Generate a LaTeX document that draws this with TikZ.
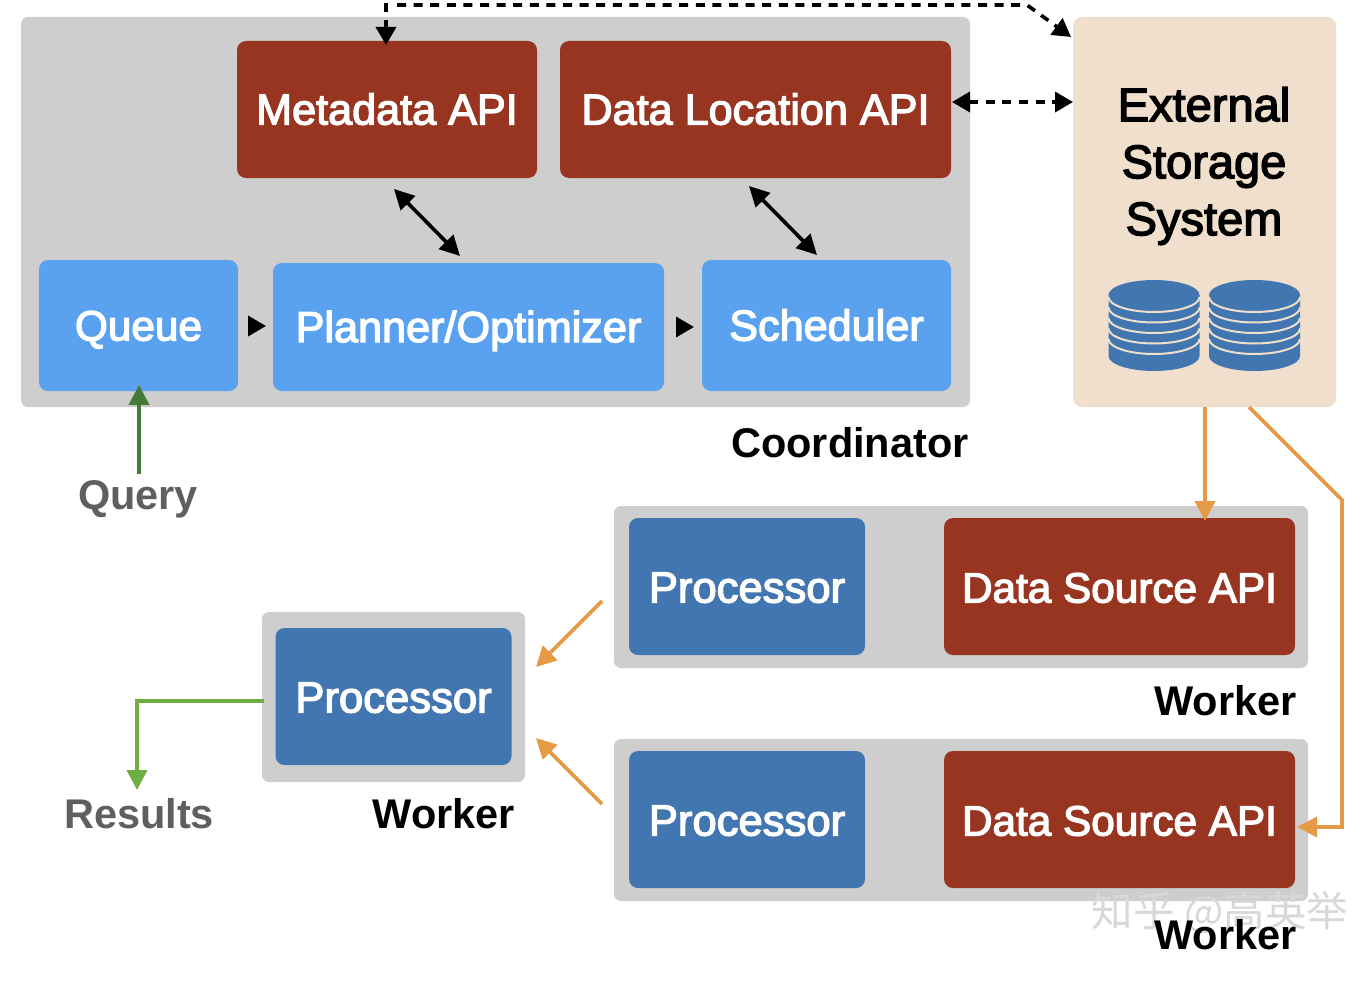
\documentclass[tikz,border=0pt]{standalone}
\usepackage{fontspec}
\setmainfont{Liberation Sans}
\newfontfamily\medfont[BoldFont={Liberation Sans},BoldFeatures={FakeBold=3}]{Liberation Sans}
\newfontfamily\cjkfont{Noto Sans CJK SC}
\usetikzlibrary{arrows.meta}
\definecolor{panelgray}{HTML}{CECECE}
\definecolor{apired}{HTML}{983521}
\definecolor{lightblue}{HTML}{5AA2F0}
\definecolor{darkblue}{HTML}{4276B0}
\definecolor{beige}{HTML}{EFDFCC}
\definecolor{labelgray}{HTML}{5F5F5F}
\definecolor{flow}{HTML}{E59B45}
\definecolor{querygreen}{HTML}{47793A}
\definecolor{resultgreen}{HTML}{6FAD45}
\definecolor{wmark}{HTML}{D8D8D8}
\tikzset{
  panel/.style={fill=panelgray,rounded corners=7pt,inner sep=0pt},
  card/.style={rounded corners=9pt,inner sep=0pt,text=white,text height=30pt,text depth=0pt,font=\medfont\bfseries\fontsize{42.3}{50}\selectfont},
  apicard/.style={card,fill=apired},
  lightcard/.style={card,fill=lightblue},
  darkcard/.style={card,fill=darkblue,text height=32pt,font=\medfont\bfseries\fontsize{43.6}{50}\selectfont},
  widecard/.style={font=\medfont\bfseries\fontsize{43.2}{50}\selectfont},
  caption/.style={inner sep=0pt,text height=28pt,text depth=0pt,font=\bfseries\fontsize{41.5}{50}\selectfont},
  graycaption/.style={caption,text=labelgray},
  blackhead/.style={-{Triangle[length=18pt,width=20pt]}},
  dashline/.style={line width=3.6pt,dash pattern=on 9pt off 7.6pt,black},
  solidline/.style={line width=3.6pt,black},
  flowline/.style={line width=3.8pt,flow,line join=miter},
  flowhead/.style={-{Triangle[length=20pt,width=20pt]}},
  disk/.style={fill=darkblue},
  diskline/.style={draw=beige,line width=2pt}
}
\begin{document}
\begin{tikzpicture}[x=1pt,y=-1pt]
\useasboundingbox (0,0) rectangle (1370,982);
\fill[white] (0,0) rectangle (1370,982);

% panels
\node[panel,minimum width=949pt,minimum height=390pt] (coord) at (495.5,212) {};
\node[fill=beige,rounded corners=9pt,inner sep=0pt,minimum width=263pt,minimum height=390pt] (ext) at (1204.5,212) {};
\node[panel,minimum width=694pt,minimum height=162pt] (w1) at (961,587) {};
\node[panel,minimum width=694pt,minimum height=162pt] (w2) at (961,820) {};
\node[panel,minimum width=263pt,minimum height=170pt] (w3) at (393.5,697) {};

% cards
\node[apicard,widecard,minimum width=300pt,minimum height=137pt] (meta) at (387,109.5) {Metadata API};
\node[apicard,widecard,minimum width=391pt,minimum height=137pt] (loc) at (755.5,109.5) {Data Location API};
\node[lightcard,minimum width=199pt,minimum height=131pt] (queue) at (138.5,325.5) {Queue};
\node[lightcard,widecard,minimum width=391pt,minimum height=128pt] (plan) at (468.5,327) {Planner/Optimizer};
\node[lightcard,widecard,minimum width=249pt,minimum height=131pt] (sched) at (826.5,325.5) {Scheduler};
\node[darkcard,minimum width=236pt,minimum height=137pt] (p1) at (747,586.5) {Processor};
\node[apicard,text height=32pt,minimum width=351pt,minimum height=137pt] (d1) at (1119.5,586.5) {Data Source API};
\node[darkcard,minimum width=236pt,minimum height=137pt] (p2) at (747,819.5) {Processor};
\node[apicard,text height=32pt,minimum width=351pt,minimum height=137pt] (d2) at (1119.5,819.5) {Data Source API};
\node[darkcard,minimum width=236pt,minimum height=137pt] (p3) at (393.5,696.5) {Processor};

% external storage text
\node[inner sep=0pt,align=center,font=\medfont\bfseries\fontsize{47}{57}\selectfont] (extlabel) at (1204,166) {External\\Storage\\System};

% disks
\foreach \cx in {1154,1254.5}{
  \fill[disk] (\cx-45.5,295) -- (\cx-45.5,356) arc[start angle=180,end angle=0,x radius=45.5,y radius=15] -- (\cx+45.5,295) -- cycle;
  \fill[disk] (\cx,295) ellipse[x radius=45.5,y radius=15];
  \foreach \dy in {297,307.5,318,328.5,339}{
    \draw[diskline] (\cx-45.5,\dy) arc[start angle=180,end angle=0,x radius=45.5,y radius=15];
  }
}

% captions
\node[graycaption] (query) at (138,495) {Query};
\node[graycaption] (results) at (139,814) {Results};
\node[caption] (coordlabel) at (850,443) {Coordinator};
\node[caption] (wl1) at (1225.5,701) {Worker};
\node[caption] (wl3) at (444,814) {Worker};
\node[inner sep=0pt,text=wmark,font=\cjkfont\fontsize{41.5}{50}\selectfont] (mark) at (1220,913) {知乎 @高英举};
\node[caption] (wl2) at (1225.5,935) {Worker};

% free ends of connectors
\coordinate (topa) at (386,3);
\coordinate (topb) at (386,45);
\coordinate (topc) at (397,5);
\coordinate (topd) at (1027,5);
\coordinate (tope) at (1071,37);
\coordinate (lx1) at (952,102);
\coordinate (lx2) at (1073,102);
\coordinate (mp1) at (394,189);
\coordinate (mp2) at (460,256);
\coordinate (ls1) at (749,186);
\coordinate (ls2) at (817,255);
\coordinate (qp1) at (247.5,326);
\coordinate (qp2) at (266,326);
\coordinate (ps1) at (675.5,327);
\coordinate (ps2) at (694,327);
\coordinate (qs) at (139,474);
\coordinate (qe) at (139,385);
\coordinate (rs) at (264,701);
\coordinate (rb) at (137,701);
\coordinate (re) at (137,790);
\coordinate (o1s) at (1205,407);
\coordinate (o1e) at (1205,521);
\coordinate (o2s) at (1249,407);
\coordinate (o2a) at (1342,500);
\coordinate (o2b) at (1342,827);
\coordinate (o2e) at (1297,827);
\coordinate (o3s) at (602,601);
\coordinate (o3e) at (536,667);
\coordinate (o4s) at (602,804);
\coordinate (o4e) at (536,738);

% dashed connectors
\draw[dashline,blackhead] (topa) -- (topb);
\draw[dashline,blackhead] (topc) -- (topd) -- (tope);
\draw[dashline,{Triangle[length=18pt,width=20pt]}-{Triangle[length=18pt,width=20pt]}] (lx1) -- (lx2);

% solid black connectors
\draw[solidline,{Triangle[length=20pt,width=20pt]}-{Triangle[length=20pt,width=20pt]}] (mp1) -- (mp2);
\draw[solidline,{Triangle[length=20pt,width=20pt]}-{Triangle[length=20pt,width=20pt]}] (ls1) -- (ls2);
\draw[solidline,blackhead] (qp1) -- (qp2);
\draw[solidline,blackhead] (ps1) -- (ps2);

% green connectors
\draw[line width=3.8pt,querygreen,flowhead] (qs) -- (qe);
\draw[line width=3.8pt,resultgreen,flowhead] (rs) -- (rb) -- (re);

% orange connectors
\draw[flowline,flowhead] (o1s) -- (o1e);
\draw[flowline,flowhead] (o2s) -- (o2a) -- (o2b) -- (o2e);
\draw[flowline,flowhead] (o3s) -- (o3e);
\draw[flowline,flowhead] (o4s) -- (o4e);
\end{tikzpicture}
\end{document}
